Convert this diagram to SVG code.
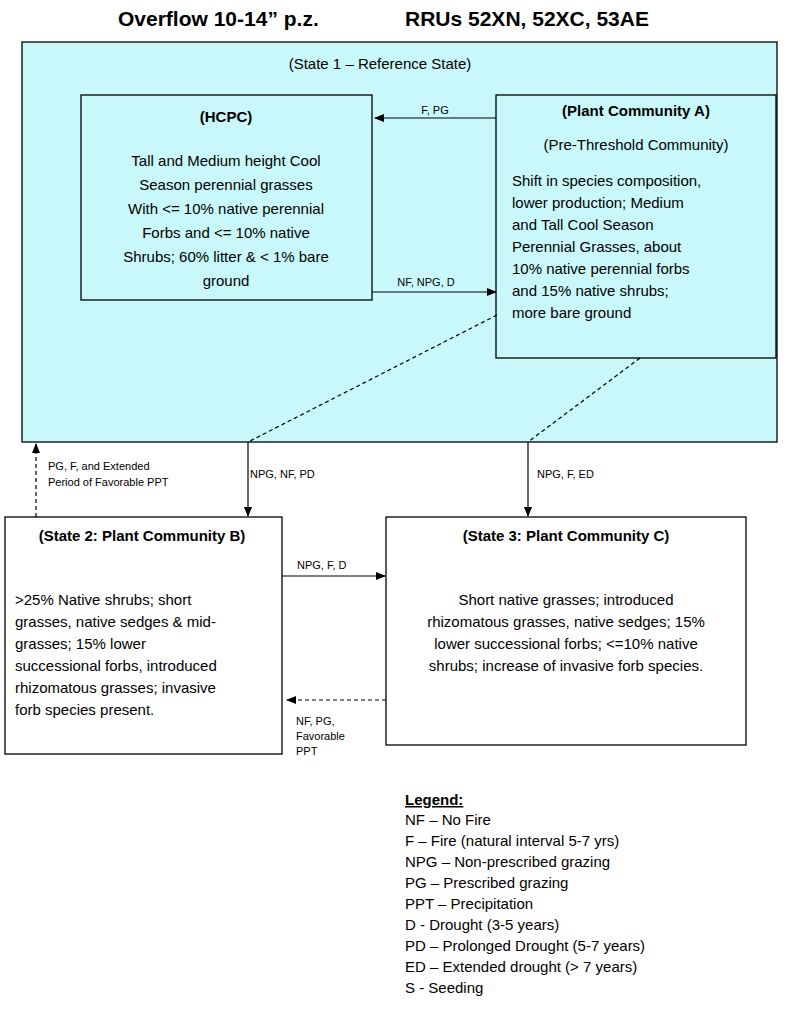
<svg xmlns="http://www.w3.org/2000/svg" width="800" height="1012" viewBox="0 0 800 1012">
<style>
.b{stroke:#000;stroke-width:1.3}
.t{font-family:"Liberation Sans",Arial,sans-serif;font-size:15px;fill:#000}
.h{font-family:"Liberation Sans",Arial,sans-serif;font-size:15px;font-weight:bold;fill:#000}
.s{font-family:"Liberation Sans",Arial,sans-serif;font-size:11px;fill:#000}
.c{stroke:#000;stroke-width:1.2;fill:none}
.d{stroke-dasharray:4,3}
.ti{font-family:"Liberation Sans",Arial,sans-serif;font-size:21px;font-weight:bold;fill:#000}
</style>
<defs><marker id="a" markerWidth="10" markerHeight="8" refX="9" refY="4" orient="auto" markerUnits="userSpaceOnUse"><path d="M0,0L10,4L0,8z" fill="#000"/></marker></defs>
<rect width="800" height="1012" fill="#fff"/>
<text x="118" y="26" class="ti">Overflow 10-14” p.z.</text>
<text x="405" y="26" class="ti">RRUs 52XN, 52XC, 53AE</text>
<g id="state1"><rect x="22" y="42" width="755" height="400" fill="#c8f8fa" class="b"/>
<text x="380" y="69" text-anchor="middle" class="t" font-size="16">(State 1 – Reference State)</text></g>
<g id="hcpc"><rect x="81" y="95" width="291" height="205" fill="#c8f8fa" class="b"/>
<text x="226" y="122" text-anchor="middle" class="h">(HCPC)</text>
<text text-anchor="middle" class="t"><tspan x="226" y="166">Tall and Medium height Cool</tspan><tspan x="226" y="190">Season perennial grasses</tspan><tspan x="226" y="214">With &lt;= 10% native perennial</tspan><tspan x="226" y="238">Forbs and &lt;= 10% native</tspan><tspan x="226" y="262">Shrubs; 60% litter &amp; &lt; 1% bare</tspan><tspan x="226" y="286">ground</tspan></text></g>
<g id="pca"><rect x="496" y="95" width="280" height="263" fill="#c8f8fa" class="b"/>
<text x="636" y="116" text-anchor="middle" class="h">(Plant Community A)</text>
<text x="636" y="150" text-anchor="middle" class="t">(Pre-Threshold Community)</text>
<text class="t"><tspan x="512" y="186">Shift in species composition,</tspan><tspan x="512" y="208">lower production; Medium</tspan><tspan x="512" y="230">and Tall Cool Season</tspan><tspan x="512" y="252">Perennial Grasses, about</tspan><tspan x="512" y="274">10% native perennial forbs</tspan><tspan x="512" y="296">and 15% native shrubs;</tspan><tspan x="512" y="318">more bare ground</tspan></text></g>
<g id="state2"><rect x="5" y="517" width="277" height="237" fill="#fff" class="b"/>
<text x="142" y="541" text-anchor="middle" class="h">(State 2:  Plant Community B)</text>
<text class="t"><tspan x="15" y="605">&gt;25% Native shrubs; short</tspan><tspan x="15" y="627">grasses, native sedges &amp; mid-</tspan><tspan x="15" y="649">grasses; 15% lower</tspan><tspan x="15" y="671">successional forbs, introduced</tspan><tspan x="15" y="693">rhizomatous grasses; invasive</tspan><tspan x="15" y="715">forb species present.</tspan></text></g>
<g id="state3"><rect x="386" y="517" width="360" height="228" fill="#fff" class="b"/>
<text x="566" y="541" text-anchor="middle" class="h">(State 3:  Plant Community C)</text>
<text text-anchor="middle" class="t"><tspan x="566" y="605">Short native grasses; introduced</tspan><tspan x="566" y="627">rhizomatous grasses, native sedges; 15%</tspan><tspan x="566" y="649">lower successional forbs; &lt;=10% native</tspan><tspan x="566" y="671">shrubs; increase of invasive forb species.</tspan></text></g>
<g id="connectors">
<line x1="496" y1="118" x2="375" y2="118" class="c" marker-end="url(#a)"/>
<line x1="372" y1="292" x2="496" y2="292" class="c" marker-end="url(#a)"/>
<line x1="497" y1="315" x2="248" y2="442" class="c d"/>
<line x1="248" y1="442" x2="248" y2="516" class="c" marker-end="url(#a)"/>
<line x1="640" y1="358" x2="528" y2="442" class="c d"/>
<line x1="528" y1="442" x2="528" y2="516" class="c" marker-end="url(#a)"/>
<line x1="36" y1="517" x2="36" y2="444" class="c d" marker-end="url(#a)"/>
<line x1="282" y1="576" x2="385" y2="576" class="c" marker-end="url(#a)"/>
<line x1="386" y1="700" x2="287" y2="700" class="c d" marker-end="url(#a)"/>
<text x="435" y="114" text-anchor="middle" class="s">F, PG</text>
<text x="426" y="286" text-anchor="middle" class="s">NF, NPG, D</text>
<text x="250" y="478" class="s">NPG, NF, PD</text>
<text x="537" y="478" class="s">NPG, F, ED</text>
<text class="s"><tspan x="48" y="470">PG, F, and Extended</tspan><tspan x="48" y="486">Period of Favorable PPT</tspan></text>
<text x="297" y="569" class="s">NPG, F, D</text>
<text class="s"><tspan x="296" y="725">NF, PG,</tspan><tspan x="296" y="740">Favorable</tspan><tspan x="296" y="755">PPT</tspan></text>
</g>
<g id="legend">
<text x="405" y="805" class="h" text-decoration="underline">Legend:</text>
<text class="t" font-size="14"><tspan x="405" y="825">NF – No Fire</tspan><tspan x="405" y="846">F – Fire (natural interval 5-7 yrs)</tspan><tspan x="405" y="867">NPG – Non-prescribed grazing</tspan><tspan x="405" y="888">PG – Prescribed grazing</tspan><tspan x="405" y="909">PPT – Precipitation</tspan><tspan x="405" y="930">D - Drought (3-5 years)</tspan><tspan x="405" y="951">PD – Prolonged Drought (5-7 years)</tspan><tspan x="405" y="972">ED – Extended drought (&gt; 7 years)</tspan><tspan x="405" y="993">S - Seeding</tspan></text>
</g>
</svg>
